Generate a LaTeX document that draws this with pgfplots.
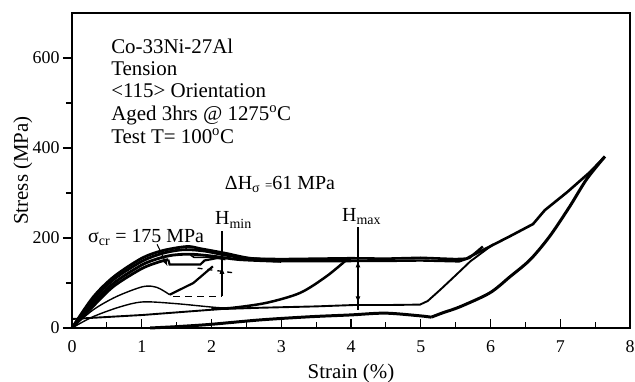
\documentclass[border=0pt]{standalone}
\usepackage{fontspec}
\setmainfont{Liberation Serif}
\usepackage{pgfplots}
\pgfplotsset{compat=1.18}
\usetikzlibrary{arrows.meta}
\begin{document}
\begin{tikzpicture}
\begin{axis}[
 width=558bp, height=315bp, scale only axis,
 xmin=0, xmax=8, ymin=0, ymax=700,
 xtick={0,...,8}, minor xtick={0.5,1.5,...,7.5},
 ytick={0,200,400,600}, minor ytick={100,300,500},
 xtick pos=bottom, ytick pos=left,
 xtick align=inside, ytick align=outside,
 major tick length=9bp, minor tick length=6bp,
 axis line style={line width=1.3pt},
 every tick/.style={line width=1.1pt, black},
 tick label style={font=\fontsize{18}{18}\selectfont},
 xticklabel style={yshift=-9bp},
 /pgf/number format/assume math mode=true,
 label style={font=\fontsize{21}{21}\selectfont},
 xlabel={Strain (\%)}, ylabel={Stress (MPa)},
 xlabel style={at={(axis description cs:0.5,-0.143)}, anchor=center},
 ylabel style={at={(axis description cs:-0.088,0.5)}, anchor=center},
 clip=false,
]
% loading envelope band (several overlapping cycles)
\addplot[line width=2.8pt, smooth] coordinates {(0,0) (0.3,68) (0.6,114) (1.0,155) (1.3,172) (1.65,181) (1.85,176) (2.2,166) (2.55,155) (3.0,151) (3.5,150) (4.0,151)};
\addplot[line width=2.8pt, smooth] coordinates {(0,0) (0.3,62) (0.6,108) (1.0,148) (1.3,166) (1.6,174) (1.9,171) (2.2,162) (2.6,153) (3.0,149) (4.0,149)};
\addplot[line width=2.8pt, smooth] coordinates {(0,0) (0.3,55) (0.6,100) (1.0,140) (1.25,155) (1.45,162) (1.7,164) (2.0,160) (2.4,152) (3,148)};
\addplot[line width=2.8pt, smooth] coordinates {(0,0) (0.3,48) (0.6,93) (1.0,132) (1.25,147) (1.38,152)};
% small loop near hump
\addplot[line width=2.2pt] coordinates {(1.38,152) (1.40,141) (1.84,141) (1.9,150) (2.1,156)};
\addplot[line width=1.6pt] coordinates {(1.7,162) (1.75,157) (2.0,157) (2.2,152)};
% upper plateau (last cycle) and loading to max
\addplot[line width=2.6pt] coordinates {(2.6,154) (3.0,153) (3.5,154) (4.0,155) (4.5,154) (5.0,156) (5.5,153) (5.65,154) (5.85,170) (5.99,181) (6.28,204) (6.61,231) (6.73,253) (6.78,262) (7.10,302) (7.43,347) (7.64,381)};
\addplot[line width=2.4pt] coordinates {(4.0,149) (4.5,149) (5.0,150) (5.55,148) (5.7,156) (5.89,181)};
% unloading from max, down to residual strain
\addplot[line width=3pt, smooth] coordinates {(7.64,381) (7.38,331) (7.14,271) (6.85,204) (6.57,152) (6.28,114) (5.99,78) (5.56,47) (5.32,34) (5.15,24)};
\addplot[line width=3pt, smooth] coordinates {(5.15,24) (4.99,27) (4.49,33) (3.99,29) (3.41,25) (2.7,18) (1.98,8) (1.5,3) (1.12,0)};
% middle thin line (unload/reload of 4% cycle)
\addplot[line width=1.9pt] coordinates {(0,20) (1.02,29) (2.12,42) (2.7,45) (3.5,48) (4.03,51) (4.5,51) (4.99,52) (5.1,60) (5.28,85) (5.5,117) (5.71,148) (6.04,186)};
% reload curve to 4 %
\addplot[line width=2.5pt, smooth] coordinates {(2.0,42) (2.31,45) (2.79,56) (3.27,78) (3.65,115) (3.94,152)};
% thin humped curves near origin
\addplot[line width=1.4pt, smooth] coordinates {(0,0) (0.3,40) (0.64,70) (1.02,92) (1.22,90) (1.40,74)};
\addplot[line width=2.2pt] coordinates {(1.40,74) (1.74,100) (2.02,137)};
\addplot[line width=1.4pt, smooth] coordinates {(0,0) (0.3,25) (0.69,47) (1.02,58) (1.5,54) (2.12,45) (2.5,44)};
% dashed guides
\addplot[line width=1.5pt, dash pattern=on 7pt off 5pt] coordinates {(1.45,70) (2.15,70)};
\addplot[line width=1.3pt, dash pattern=on 5pt off 5pt] coordinates {(1.8,133) (2.35,122)};
% H_min marker
\addplot[line width=1.2pt] coordinates {(2.15,70) (2.15,215)};
\addplot[line width=1.2pt, -{Latex[length=7pt,width=5pt]}] coordinates {(2.15,70) (2.15,136)};
% H_max marker
\addplot[line width=1.2pt] coordinates {(4.1,40) (4.1,224)};
\addplot[line width=1.2pt, {Latex[length=7pt,width=5pt]}-{Latex[length=7pt,width=5pt]}] coordinates {(4.1,55) (4.1,150)};
% sigma_cr pointer
\addplot[line width=1pt, -{Latex[length=7pt,width=5pt]}] coordinates {(1.22,186) (1.37,137)};
% texts
\begin{scope}[every node/.style={anchor=base west, inner sep=0pt, font=\fontsize{21}{21}\selectfont}]
\node at (axis cs:0.56,611) {Co-33Ni-27Al};
\node at (axis cs:0.56,562) {Tension};
\node at (axis cs:0.56,513) {<115> Orientation};
\node at (axis cs:0.56,462) {Aged 3hrs @ 1275\textsuperscript{o}C};
\node at (axis cs:0.56,411) {Test T= 100\textsuperscript{o}C};
\end{scope}
\begin{scope}[every node/.style={anchor=base west, inner sep=0pt, font=\fontsize{20}{20}\selectfont}]
\node at (axis cs:2.19,307) {ΔH\textsubscript{σ} {\fontsize{13}{13}\selectfont =}61 MPa};
\node at (axis cs:0.23,191) {σ\textsubscript{cr} = 175 MPa};
\node at (axis cs:2.05,229) {H\textsubscript{min}};
\node at (axis cs:3.87,236) {H\textsubscript{max}};
\end{scope}
\end{axis}
\pgfresetboundingbox
\path[use as bounding box] ([shift={(-72bp,-54bp)}]current axis.south west) rectangle ([shift={(5bp,13bp)}]current axis.north east);
\end{tikzpicture}
\end{document}
